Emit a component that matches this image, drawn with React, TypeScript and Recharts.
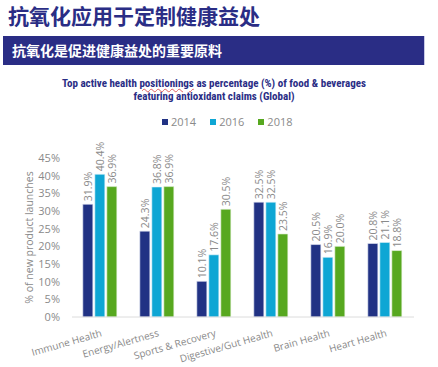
import React from "react";
import { BarChart, Bar, XAxis, YAxis, Legend, LabelList } from "recharts";

const categories = [
  "Immune Health",
  "Energy/Alertness",
  "Sports & Recovery",
  "Digestive/Gut Health",
  "Brain Health",
  "Heart Health",
];
const values2014 = [31.9, 24.3, 10.1, 32.5, 20.5, 20.8];
const values2016 = [40.4, 36.8, 17.6, 32.5, 16.9, 21.1];
const values2018 = [36.9, 36.9, 30.5, 23.5, 20.0, 18.8];
const yTicks = [0, 5, 10, 15, 20, 25, 30, 35, 40, 45];

const data = categories.map((c, i) => ({
  name: c,
  y2014: values2014[i],
  y2016: values2016[i],
  y2018: values2018[i],
}));

const NAVY = "#2a2d85";
const C2014 = "#213284";
const C2016 = "#0ea6d4";
const C2018 = "#57a81f";
const GRAY = "#8a8a8a";
const FONT = "'Open Sans', 'Noto Sans', sans-serif";

const ValueLabel = (props: any) => {
  const { x, y, width, value } = props;
  const cx = x + width / 2;
  const ty = y - 3;
  return (
    <text
      x={cx}
      y={ty}
      transform={`rotate(-90, ${cx}, ${ty})`}
      textAnchor="start"
      dominantBaseline="central"
      fontSize={10.5}
      fill={GRAY}
      fontFamily={FONT}
    >
      {Number(value).toFixed(1)}%
    </text>
  );
};

const XTick = (props: any) => {
  const { x, y, payload } = props;
  return (
    <g transform={`translate(${x + 2},${y + 11})`}>
      <text
        x={0}
        y={0}
        textAnchor="end"
        transform="rotate(-16)"
        fontSize={10}
        fill={GRAY}
        fontFamily={FONT}
      >
        {payload.value}
      </text>
    </g>
  );
};

const YAxisTitle = (props: any) => {
  const { viewBox, value } = props;
  const cx = 29;
  const cy = viewBox.y + viewBox.height / 2;
  return (
    <text
      x={cx}
      y={cy}
      transform={`rotate(-90, ${cx}, ${cy})`}
      textAnchor="middle"
      dominantBaseline="central"
      fontSize={10.5}
      fill={GRAY}
      fontFamily={FONT}
    >
      {value}
    </text>
  );
};

const LegendContent = (props: any) => {
  const { payload } = props;
  return (
    <div style={{ display: "flex", gap: 14, fontFamily: FONT, fontSize: 11, color: GRAY }}>
      {payload.map((p: any) => (
        <div key={p.value} style={{ display: "flex", alignItems: "center", gap: 3 }}>
          <div style={{ width: 6, height: 6, background: p.color }} />
          <span>{p.value}</span>
        </div>
      ))}
    </div>
  );
};

export default function App() {
  return (
    <div
      style={{
        position: "absolute",
        left: 0,
        top: 0,
        width: 438,
        height: 367,
        background: "#fff",
        overflow: "hidden",
      }}
    >
      <div
        style={{
          position: "absolute",
          left: 8,
          top: 0,
          height: 30,
          lineHeight: "30px",
          fontFamily: "'Noto Sans CJK SC', sans-serif",
          fontWeight: 700,
          fontSize: 21,
          color: NAVY,
          whiteSpace: "nowrap",
        }}
      >
        抗氧化应用于定制健康益处
      </div>
      <div
        style={{
          position: "absolute",
          left: 3,
          top: 36,
          width: 422,
          height: 29,
          background: NAVY,
          boxSizing: "border-box",
          borderRight: "1px solid #c8cae6",
        }}
      >
        <div
          style={{
            position: "absolute",
            left: 9,
            top: 0,
            lineHeight: "29px",
            fontFamily: "'Noto Sans CJK SC', sans-serif",
            fontWeight: 700,
            fontSize: 14,
            color: "#fff",
            whiteSpace: "nowrap",
          }}
        >
          抗氧化是促进健康益处的重要原料
        </div>
      </div>
      <div
        style={{
          position: "absolute",
          left: 0,
          top: 77,
          width: 428,
          textAlign: "center",
          fontFamily: "'Liberation Sans Narrow', 'Roboto Condensed', 'Liberation Sans', sans-serif",
          fontWeight: 700,
          fontSize: 11,
          lineHeight: "13px",
          color: NAVY,
        }}
      >
        <div>
          Top active health{" "}
          <span style={{ textDecoration: "underline wavy #e06060", textDecorationThickness: 1 }}>
            positionings
          </span>{" "}
          as percentage (%) of food &amp; beverages
        </div>
        <div>featuring antioxidant claims (Global)</div>
      </div>
      <div style={{ position: "absolute", left: 0, top: 0 }}>
        <BarChart
          width={438}
          height={367}
          data={data}
          margin={{ top: 143, right: 24, bottom: 10, left: 0 }}
          barCategoryGap="19%"
          barGap={2}
        >
          <Legend
            verticalAlign="top"
            align="left"
            content={<LegendContent />}
            wrapperStyle={{ position: "absolute", top: 114, left: 162, width: 160 }}
          />
          <XAxis
            dataKey="name"
            interval={0}
            tick={<XTick />}
            tickLine={false}
            axisLine={{ stroke: "#dcdcdc" }}
            height={40}
          />
          <YAxis
            domain={[0, 45]}
            ticks={yTicks}
            width={72}
            tickLine={false}
            axisLine={false}
            tickMargin={6}
            tickFormatter={(v: number) => `${v}%`}
            tick={{ fontSize: 11, fill: GRAY, fontFamily: FONT }}
            label={<YAxisTitle value="% of new product launches" />}
          />
          <Bar dataKey="y2014" name="2014" fill={C2014} stroke="#e3e6f3" strokeWidth={0.6} isAnimationActive={false}>
            <LabelList dataKey="y2014" content={<ValueLabel />} />
          </Bar>
          <Bar dataKey="y2016" name="2016" fill={C2016} stroke="#e3f4fa" strokeWidth={0.6} isAnimationActive={false}>
            <LabelList dataKey="y2016" content={<ValueLabel />} />
          </Bar>
          <Bar dataKey="y2018" name="2018" fill={C2018} stroke="#e9f4e1" strokeWidth={0.6} isAnimationActive={false}>
            <LabelList dataKey="y2018" content={<ValueLabel />} />
          </Bar>
        </BarChart>
      </div>
    </div>
  );
}
